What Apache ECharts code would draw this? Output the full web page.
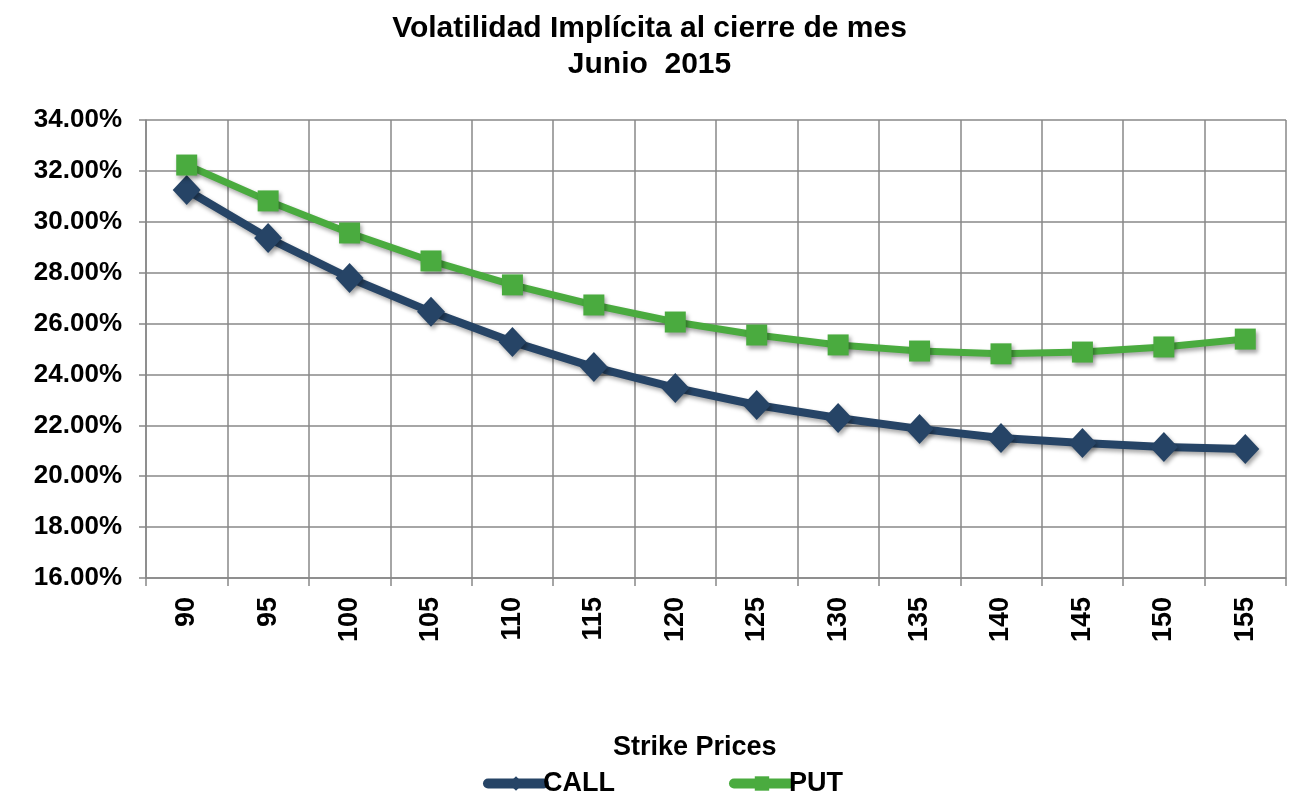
<!DOCTYPE html>
<html>
<head>
<meta charset="utf-8">
<script src="https://cdn.jsdelivr.net/npm/echarts@6/dist/echarts.min.js"></script>
<style>
  html,body{margin:0;padding:0;background:#fff}
  #chart{width:1299px;height:794px}
</style>
</head>
<body>
<div id="chart"></div>
<script>
/* datos */
const strikes = ['90','95','100','105','110','115','120','125','130','135','140','145','150','155'];
const callVol = [31.25,29.36,27.79,26.46,25.28,24.29,23.47,22.80,22.29,21.86,21.50,21.31,21.15,21.07];
const putVol  = [32.23,30.82,29.56,28.46,27.52,26.73,26.06,25.55,25.16,24.92,24.81,24.88,25.08,25.39];

const FONT = "'Liberation Sans', Arial, sans-serif";
const GRID_C = '#888888';
const CALL_C = '#264466', PUT_C = '#4aab3f';
const SHADOW = {shadowBlur:4, shadowColor:'rgba(0,0,0,0.35)', shadowOffsetX:2, shadowOffsetY:3};

const ch = echarts.init(document.getElementById('chart'), null, {renderer:'canvas'});
ch.setOption({
  animation:false,
  textStyle:{fontFamily:FONT},
  title:[
    {text:'Volatilidad Implícita al cierre de mes', left:'center', top:9,
     textStyle:{fontFamily:FONT,fontSize:30,fontWeight:'bold',color:'#000'}},
    {text:'Junio  2015', left:'center', top:45,
     textStyle:{fontFamily:FONT,fontSize:30,fontWeight:'bold',color:'#000'}},
    {text:'Strike Prices', left:608, top:729,
     textStyle:{fontFamily:FONT,fontSize:27,fontWeight:'bold',color:'#000'}}
  ],
  grid:{left:146,right:13,top:120,bottom:216,containLabel:false},
  legend:{left:478, top:765, itemWidth:56, itemHeight:18, itemGap:114,
    lineStyle:{width:10, cap:'round', shadowBlur:0, shadowOffsetX:0, shadowOffsetY:0},
    itemStyle:{shadowBlur:0, shadowOffsetX:0, shadowOffsetY:0},
    textStyle:{fontFamily:FONT,fontSize:27,fontWeight:'bold',color:'#000',padding:[0,0,0,-6]},
    data:['CALL','PUT']},
  xAxis:{type:'category', data:strikes, boundaryGap:true,
    axisLine:{lineStyle:{color:GRID_C,width:1.5}},
    axisTick:{show:true,length:8,interval:0,lineStyle:{color:GRID_C,width:1.5}},
    splitLine:{show:true,interval:0,lineStyle:{color:GRID_C,width:1.5}},
    axisLabel:{rotate:90,margin:19,interval:0,color:'#000',fontFamily:FONT,fontSize:27,fontWeight:'bold'}},
  yAxis:{type:'value', min:16, max:34, interval:2,
    axisLine:{show:true,lineStyle:{color:GRID_C,width:1.5}},
    axisTick:{show:true,length:7,lineStyle:{color:GRID_C,width:1.5}},
    splitLine:{show:true,lineStyle:{color:GRID_C,width:1.5}},
    axisLabel:{margin:24,color:'#000',fontFamily:FONT,fontSize:26,fontWeight:'bold',
      formatter:v=>v.toFixed(2)+'%'}},
  series:[
    {name:'CALL', type:'line', data:callVol, symbol:'diamond', symbolSize:[28,30],
     lineStyle:{color:CALL_C,width:8,...SHADOW}, itemStyle:{color:CALL_C,...SHADOW}},
    {name:'PUT', type:'line', data:putVol, symbol:'rect', symbolSize:21,
     lineStyle:{color:PUT_C,width:7,...SHADOW}, itemStyle:{color:PUT_C,...SHADOW}}
  ]
});
</script>
</body>
</html>
